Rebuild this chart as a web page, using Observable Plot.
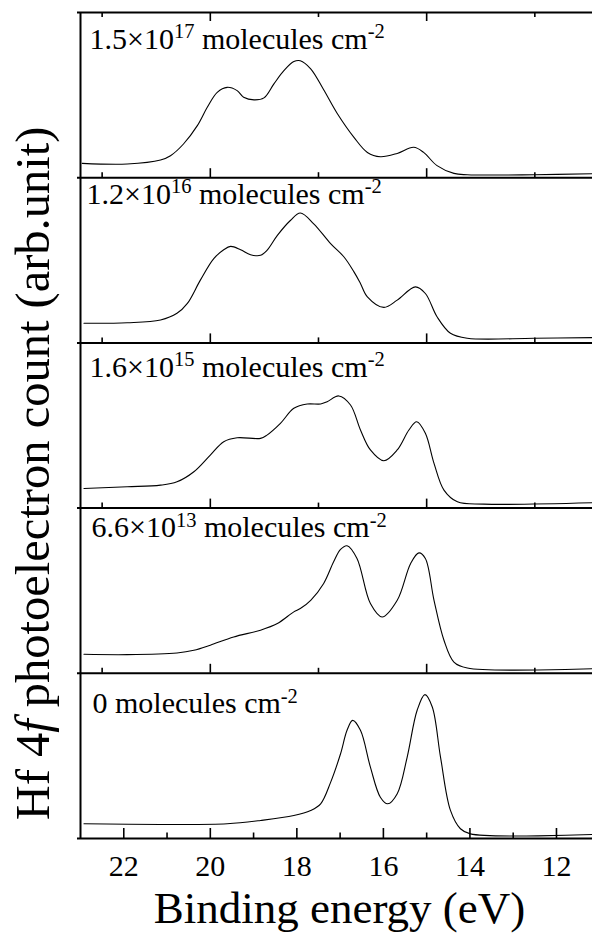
<!DOCTYPE html>
<html>
<head>
<meta charset="utf-8">
<script src="https://cdn.jsdelivr.net/npm/d3@7"></script>
<script src="https://cdn.jsdelivr.net/npm/@observablehq/plot@0.6"></script>
<style>
  html, body { margin: 0; padding: 0; background: #fff; }
  #chart svg { display: block; }
</style>
</head>
<body>
<div id="chart"></div>
<script>
// ---- data ----
const panelLabels = [
  "1.5×10^{17} molecules cm^{-2}",
  "1.2×10^{16} molecules cm^{-2}",
  "1.6×10^{15} molecules cm^{-2}",
  "6.6×10^{13} molecules cm^{-2}",
  "0 molecules cm^{-2}"
];

const energy1 = [22.96, 21.92, 21.15, 20.92, 20.62, 20.30, 20.07, 19.84, 19.61, 19.38, 19.23, 18.99, 18.76, 18.53, 18.30, 18.07, 17.92, 17.68, 17.38, 17.07, 16.68, 16.37, 16.07, 15.68, 15.30, 15.07, 14.76, 14.37, 14.06, 12.52, 11.17];
const count1  = [8.7, 8.3, 10.7, 13.3, 20.4, 31.5, 42.6, 51.7, 54.7, 52.7, 48.7, 47.1, 48.3, 56.8, 64.8, 70.3, 70.8, 65.9, 53.2, 39.0, 24.4, 15.3, 12.7, 14.7, 18.4, 15.3, 7.3, 2.6, 1.8, 1.8, 2.4];

const energy2 = [22.92, 21.92, 21.15, 20.77, 20.53, 20.23, 19.92, 19.69, 19.53, 19.30, 19.07, 18.84, 18.69, 18.45, 18.15, 17.92, 17.61, 17.22, 16.91, 16.68, 16.53, 16.37, 15.99, 15.68, 15.26, 15.03, 14.76, 14.45, 14.06, 12.52, 11.17];
const count2  = [11.9, 12.2, 13.9, 17.9, 23.9, 38.0, 51.0, 56.4, 58.4, 56.4, 53.4, 53.0, 56.0, 65.1, 74.1, 78.6, 72.1, 60.1, 52.0, 43.0, 36.0, 27.9, 21.5, 25.9, 33.9, 29.9, 15.8, 5.8, 2.8, 2.8, 3.2];

const energy3 = [22.92, 21.92, 21.15, 20.77, 20.38, 20.00, 19.69, 19.38, 18.84, 18.69, 18.38, 18.07, 17.76, 17.45, 17.30, 17.03, 16.76, 16.53, 16.30, 15.99, 15.68, 15.41, 15.23, 15.03, 14.83, 14.60, 14.29, 13.68, 11.17];
const count3  = [11.9, 12.9, 13.9, 15.9, 22.0, 32.1, 40.2, 42.6, 42.2, 44.2, 51.3, 60.4, 63.0, 63.0, 64.4, 67.9, 62.4, 47.3, 35.2, 28.7, 35.2, 47.3, 52.3, 45.3, 27.1, 10.9, 3.8, 2.4, 3.2];

const energy4 = [22.92, 21.92, 20.77, 20.38, 20.00, 19.46, 18.84, 18.45, 18.07, 17.92, 17.68, 17.38, 17.15, 16.99, 16.84, 16.61, 16.30, 16.03, 15.68, 15.37, 15.18, 15.03, 14.83, 14.60, 14.37, 14.06, 11.17];
const count4  = [11.5, 11.3, 12.3, 13.9, 17.0, 22.0, 26.1, 30.1, 37.2, 39.2, 44.2, 54.4, 67.5, 75.0, 77.2, 69.5, 42.2, 34.1, 44.2, 66.5, 72.9, 69.5, 44.2, 20.0, 6.8, 3.2, 2.8];

const energy5 = [22.92, 21.15, 19.61, 18.84, 18.07, 17.68, 17.45, 17.22, 16.99, 16.84, 16.71, 16.53, 16.30, 16.07, 15.90, 15.68, 15.45, 15.22, 15.04, 14.87, 14.68, 14.45, 14.22, 13.99, 11.17];
const count5  = [8.9, 8.5, 8.9, 10.9, 13.9, 17.0, 21.0, 34.0, 51.3, 65.5, 71.5, 65.5, 43.2, 25.0, 21.0, 27.1, 49.3, 77.6, 87.1, 79.6, 49.3, 17.0, 5.9, 2.8, 2.4];

const xTickLabels = [22, 20, 18, 16, 14, 12];
const xMinorTicks = [21, 19, 17, 15, 13, 11];
const upperMajorTicks = [20, 15];
const upperMinorTicks = [22.5, 17.5, 12.5];

const xTitle = "Binding energy (eV)";
const yTitle = "Hf 4f photoelectron count (arb.unit)";

// ---- layout ----
const W = 592, H = 933;
const mL = 80, mR = 0, mT = 12, mB = 95;
const nPanels = 5, span = 100;           // each panel spans 100 units of the stacked y scale
const pxPerUnit = (H - mT - mB) / (nPanels * span);
const labelBaselineDy = [36, 26, 34, 29, 40]; // px below each panel's top edge
const labelDx = [9, 6, 9, 11, 12];
const serif = "'Liberation Serif', 'Times New Roman', Times, serif";

const energies = [energy1, energy2, energy3, energy4, energy5];
const counts = [count1, count2, count3, count4, count5];
const base = k => (nPanels - 1 - k) * span;   // k = 0 is the top panel

const rows = energies.flatMap((es, k) =>
  es.map((e, i) => ({panel: k, E: e, y: counts[k][i] + base(k)})));

// inward tick marks
const tickRows = [];
function addTicks(values, b, lenPx, dir) {
  for (const v of values) tickRows.push({x: v, y1: b, y2: b + dir * lenPx / pxPerUnit});
}
for (let k = 0; k < nPanels - 1; k++) {
  addTicks(upperMajorTicks, base(k), 9, 1);
  addTicks(upperMinorTicks, base(k), 5, 1);
}
addTicks(upperMajorTicks, base(0) + span, 9, -1);
addTicks(upperMinorTicks, base(0) + span, 5, -1);
addTicks(xTickLabels, 0, 10, 1);
addTicks(xMinorTicks, 0, 5.5, 1);

const labelRows = panelLabels.map((t, k) => ({text: t, top: base(k) + span, k}));

const chart = Plot.plot({
  width: W, height: H,
  marginLeft: mL, marginRight: mR, marginTop: mT, marginBottom: mB,
  style: {fontFamily: serif, background: "white", color: "black", overflow: "visible"},
  x: {domain: [23, 23 - (W - mL - mR) / 43.27], axis: null},
  y: {domain: [0, nPanels * span], axis: null},
  marks: [
    Plot.line(rows, {x: "E", y: "y", z: "panel", curve: "catmull-rom", stroke: "black", strokeWidth: 1.1}),
    Plot.ruleY(d3.range(0, nPanels * span + 1, span), {stroke: "black", strokeWidth: 2, insetLeft: -3}),
    Plot.ruleX([23], {stroke: "black", strokeWidth: 2}),
    Plot.ruleX(tickRows, {x: "x", y1: "y1", y2: "y2", stroke: "black", strokeWidth: 1.6}),
    ...labelRows.map(r => Plot.text([r], {
      text: "text", y: "top", frameAnchor: "left", dx: labelDx[r.k], dy: labelBaselineDy[r.k],
      lineAnchor: "bottom", textAnchor: "start", fontSize: 30, fill: "black",
      className: "panel-label"
    })),
    Plot.text(xTickLabels, {
      x: d => d, text: d => String(d), frameAnchor: "bottom", dy: 37,
      lineAnchor: "bottom", fontSize: 30, fill: "black"
    }),
    Plot.text([xTitle], {
      text: d => d, frameAnchor: "bottom", dx: 3, dy: 84,
      lineAnchor: "bottom", fontSize: 45, fill: "black"
    }),
    Plot.text([yTitle], {
      text: d => d, frameAnchor: "left", dx: -47, dy: 48, rotate: -90,
      textAnchor: "middle", lineAnchor: "middle", fontSize: 48.5, fill: "black", className: "y-title"
    })
  ]
});

// rich text: superscripts and the italic f
const SVGNS = "http://www.w3.org/2000/svg";
chart.querySelectorAll("g.panel-label text").forEach(el => {
  const s = el.textContent;
  el.textContent = "";
  let raised = false;
  for (const p of s.split(/(\^\{[^}]*\})/)) {
    if (!p) continue;
    const t = document.createElementNS(SVGNS, "tspan");
    if (p.startsWith("^{")) {
      t.textContent = p.slice(2, -1);
      t.setAttribute("font-size", 20.5);
      t.setAttribute("dy", -10.5);
      raised = true;
    } else {
      t.textContent = p;
      if (raised) { t.setAttribute("dy", 10.5); raised = false; }
    }
    el.appendChild(t);
  }
});
chart.querySelectorAll("g.y-title text").forEach(el => {
  const s = el.textContent;
  const i = s.indexOf("4f") + 1;
  el.textContent = "";
  [[s.slice(0, i), false], [s.slice(i, i + 1), true], [s.slice(i + 1), false]].forEach(([str, it]) => {
    const t = document.createElementNS(SVGNS, "tspan");
    t.textContent = str;
    if (it) t.setAttribute("font-style", "italic");
    el.appendChild(t);
  });
});

document.getElementById("chart").appendChild(chart);
</script>
</body>
</html>
